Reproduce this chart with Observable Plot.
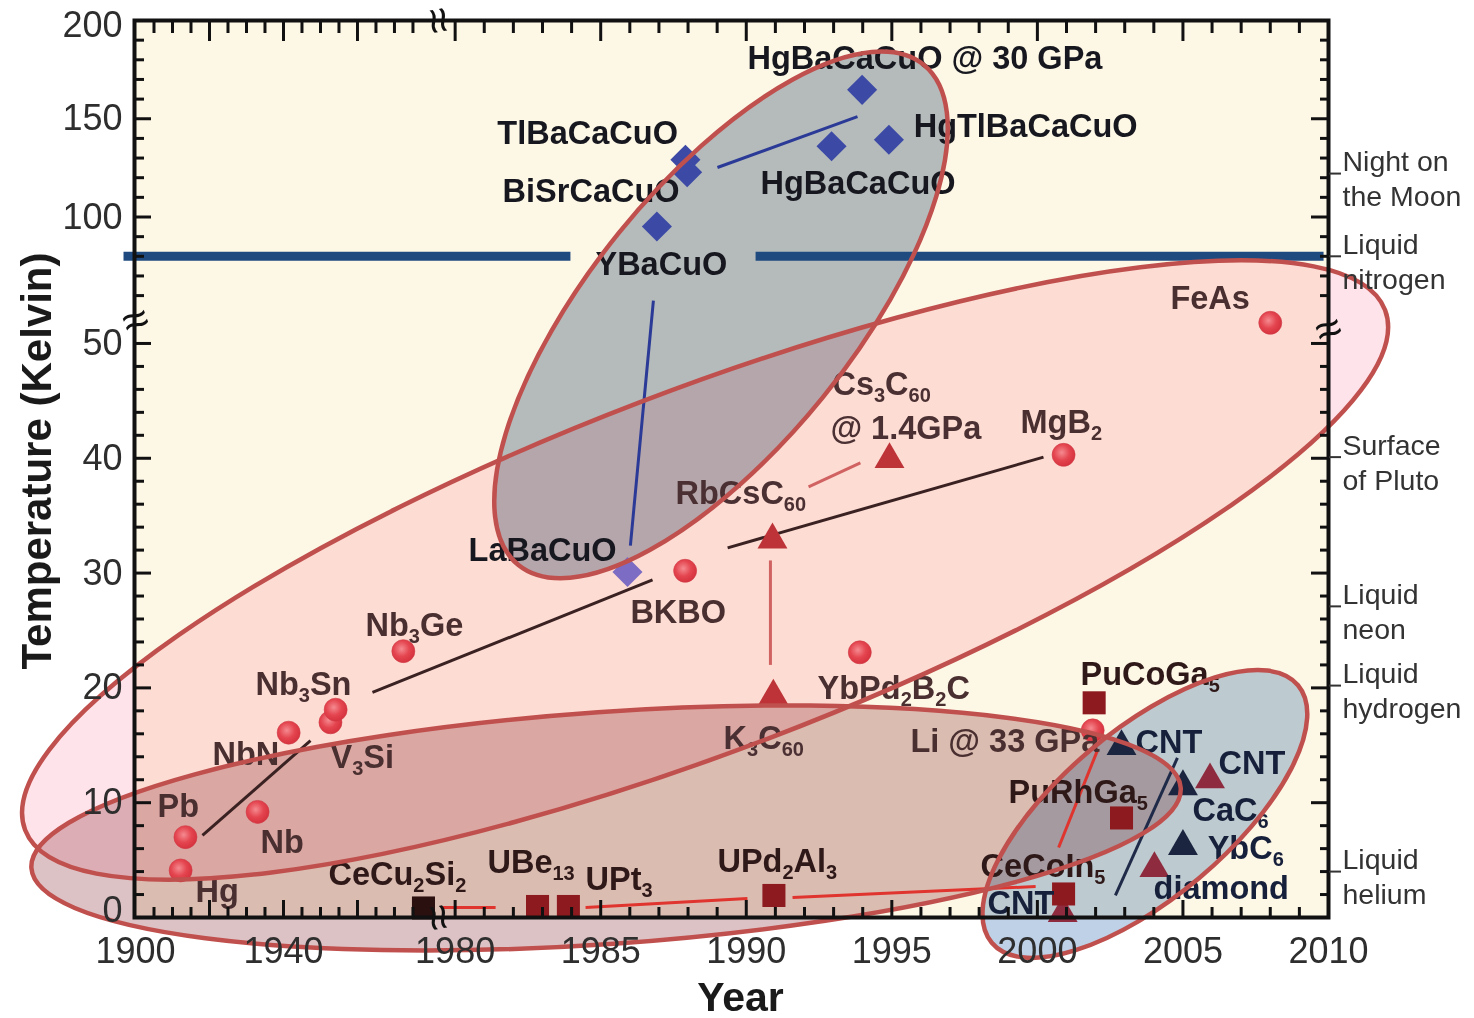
<!DOCTYPE html>
<html><head><meta charset="utf-8">
<script src="https://cdn.jsdelivr.net/npm/d3@7"></script>
<script src="https://cdn.jsdelivr.net/npm/@observablehq/plot@0.6"></script>
<style>html,body{margin:0;padding:0;background:#fff;} #chart svg{display:block}</style>
</head><body><div id="chart"></div>
<script>
// ---------------- DATA ----------------
// Axis breakpoints (broken axes): years 1900–1979 compressed, 1980–2010 expanded; Tc 0–52 K and 57–200 K
const xBreakDomain = [1900, 1979.2, 1979.6, 2010];
const yBreakDomain = [0, 52, 57, 200];

// Cuprates (blue diamonds)
const cuprateNames = ["LaBaCuO", "YBaCuO", "BiSrCaCuO", "TlBaCaCuO", "HgBaCaCuO", "HgTlBaCaCuO", "HgBaCaCuO @ 30 GPa"];
const cuprateYears = [1985.92, 1986.93, 1987.97, 1987.91, 1992.93, 1994.90, 1993.98];
const cuprateTc    = [30.1, 95.2, 122.8, 129.1, 136.0, 139.3, 164.7];

// Conventional / BCS-like (red circles)
const conventionalNames = ["Hg", "Pb", "Nb", "NbN", "V3Si", "Nb3Sn", "Nb3Ge", "BKBO", "YbPd2B2C", "MgB2", "FeAs", "Li @ 33 GPa"];
const conventionalYears = [1912.2, 1913.5, 1933.0, 1941.4, 1952.7, 1954.1, 1972.4, 1987.9, 1993.9, 2000.9, 2008.0, 2001.9];
const conventionalTc    = [4.1, 7.0, 9.2, 16.1, 17.0, 18.1, 23.2, 30.2, 23.1, 40.3, 51.8, 16.3];

// Fullerenes (red triangles)
const fullereneNames = ["K3C60", "RbCsC60", "Cs3C60 @ 1.4GPa"];
const fullereneYears = [1990.93, 1990.90, 1994.92];
const fullereneTc    = [19.3, 32.9, 39.9];

// Carbon-based (dark red triangles)
const carbonRedNames = ["diamond", "CNT", "CNT"];
const carbonRedYears = [2004.02, 2005.93, 2000.87];
const carbonRedTc    = [4.27, 12.0, 0.35];

// Carbon-based (navy triangles)
const carbonNavyNames = ["CNT", "CaC6", "YbC6"];
const carbonNavyYears = [2002.89, 2005.0, 2005.0];
const carbonNavyTc    = [14.9, 11.4, 6.2];

// Heavy fermions (squares)
const heavyNames = ["CeCu2Si2", "UBe13", "UPt3", "UPd2Al3", "CeCoIn5", "PuCoGa5", "PuRhGa5"];
const heavyYears = [1977.84, 1982.83, 1983.89, 1990.95, 2000.9, 2001.95, 2002.89];
const heavyTc    = [0.83, 0.96, 0.96, 1.92, 2.05, 18.7, 8.67];

// Trend lines
const trendFamily = ["cuprate", "cuprate", "conventional", "conventional", "conventional", "fullerene", "fullerene", "heavy", "heavy", "heavy", "heavy", "carbon"];
const trendYear1  = [1989.01, 1986.81, 1918.1, 1964.05, 1989.36, 1992.14, 1990.83, 1979.57, 1984.48, 1991.59, 2000.73, 2002.68];
const trendTc1    = [125.2, 57.5, 7.15, 19.6, 32.2, 37.5, 31.1, 0.87, 0.87, 1.74, 6.1, 1.92];
const trendYear2  = [1993.82, 1986.02, 1947.3, 1986.78, 2000.21, 1993.92, 1990.83, 1981.39, 1990.04, 1999.94, 2002.07, 2004.81];
const trendTc2    = [151.1, 32.4, 15.4, 29.4, 40.1, 39.6, 22.0, 0.87, 1.65, 2.7, 14.6, 13.9];

// Liquid nitrogen line (interrupted by the YBaCuO label)
const nitrogenTc = 80;
const nitrogenFrom = [1896.76, 1990.32];
const nitrogenTo   = [1983.96, 2009.83];

// Family groupings (ellipses): major-axis end points in (year, K)
const groupNames    = ["Cuprates", "Conventional", "Heavy fermions", "Carbon"];
const groupFromYear = [1982.19, 1870.3, 1872.0, 1998.45];
const groupFromTc   = [30.66, 7.58, 4.25, -2.24];
const groupToYear   = [1996.11, 2011.96, 2004.94, 2008.97];
const groupToTc     = [177.2, 54.63, 11.26, 20.19];

// Point labels
const labelText = ["HgBaCaCuO @ 30 GPa", "TlBaCaCuO", "BiSrCaCuO", "YBaCuO", "HgBaCaCuO", "HgTlBaCaCuO", "LaBaCuO",
  "BKBO", "Cs_3C_60", "@ 1.4GPa", "RbCsC_60", "MgB_2", "FeAs", "Nb_3Ge", "Nb_3Sn", "NbN", "V_3Si", "Pb", "Nb", "Hg",
  "CeCu_2Si_2", "UBe_13", "UPt_3", "UPd_2Al_3", "K_3C_60", "YbPd_2B_2C", "Li @ 33 GPa", "PuCoGa_5", "CNT", "CNT",
  "PuRhGa_5", "CaC_6", "YbC_6", "diamond", "CeCoIn_5", "CNT"];
const labelYear = [1990.04, 1981.45, 1981.63, 1984.82, 1990.49, 1995.75, 1980.46,
  1986.02, 1992.96, 1992.89, 1987.57, 1999.42, 2004.57, 1962.16, 1932.43, 1920.81, 1952.7, 1905.95, 1933.78, 1916.2,
  1952.16, 1981.11, 1984.48, 1989.01, 1989.22, 1992.45, 1995.64, 2001.48, 2003.37, 2006.22,
  1999.01, 2005.33, 2005.85, 2003.99, 1998.05, 1998.29];
const labelTc = [180.7, 142.2, 112.7, 75.8, 116.8, 146.1, 32.0,
  26.6, 46.4, 42.6, 36.9, 43.1, 58.5, 25.45, 20.3, 14.2, 13.95, 9.67, 6.54, 2.27,
  3.75, 4.79, 3.31, 4.88, 15.6, 19.96, 15.34, 21.18, 15.25, 13.42,
  10.9, 9.35, 6.0, 2.5, 4.45, 1.22];
const labelFamily = ["cuprate", "cuprate", "cuprate", "cuprate", "cuprate", "cuprate", "cuprate",
  "conventional", "fullerene", "fullerene", "fullerene", "conventional", "conventional", "conventional", "conventional",
  "conventional", "conventional", "conventional", "conventional", "conventional",
  "heavy", "heavy", "heavy", "heavy", "fullerene", "conventional", "conventional", "heavy", "carbon", "carbon",
  "heavy", "carbon", "carbon", "carbon", "heavy", "carbon"];

// Reference temperatures (right side)
const referenceNames = ["Night on\nthe Moon", "Liquid\nnitrogen", "Surface\nof Pluto", "Liquid\nneon", "Liquid\nhydrogen", "Liquid\nhelium"];
const referenceTc = [122.1, 80, 40.1, 27.1, 20.2, 4.0];

// Tick labels
const xTickLabels = [1900, 1940, 1980, 1985, 1990, 1995, 2000, 2005, 2010];
const yTickLabels = [10, 20, 30, 40, 50, 100, 150];
const yTickLabelBottom = [0];
const yTickLabelTop = [200];

// ---------------- STYLE ----------------
const NS = "http://www.w3.org/2000/svg";
const FONT = "'Liberation Sans', Arial, Helvetica, sans-serif";
const familyLabelColor = {cuprate: "#17181f", conventional: "#4a2f30", fullerene: "#4a3032", heavy: "#2e1818", carbon: "#16203a"};
const familyLineColor = {cuprate: "#2b3a97", conventional: "#3b2222", fullerene: "#d06262", heavy: "#e0342e", carbon: "#1e2a48"};
const ellipseFill = ["#b7c1d0", "#ffe3ea", "#ddc2c5", "#bfd1e7"];
const ellipseHalfWidth = [131, 180, 116, 84];
const TICK_FONT = 36, LABEL_FONT = 32.5, SUB_FONT = 20, SUB_DY = 7;

const xMajorTicks = [1920, 1940, 1960, 1980, 1985, 1990, 1995, 2000, 2005];
const xMinorTicks = d3.range(1905, 1980, 5).filter(d => d % 20 !== 0).concat(d3.range(1981, 2010).filter(d => d % 5 !== 0));
const yMajorTicks = [10, 20, 30, 40, 50, 100, 150];
const yMinorTicks = d3.range(2, 50, 2).filter(d => d % 10 !== 0).concat([60, 70, 80, 90, 110, 120, 130, 140, 160, 170, 180, 190]);

const idx = a => d3.range(a.length);

function defsMark() {
  const g = document.createElementNS(NS, "g");
  const defs = document.createElementNS(NS, "defs");
  const grad = document.createElementNS(NS, "radialGradient");
  grad.setAttribute("id", "dotGrad");
  grad.setAttribute("cx", "0.42"); grad.setAttribute("cy", "0.4"); grad.setAttribute("r", "0.62");
  [["0", "#f58a90"], ["0.55", "#e4454f"], ["1", "#d5323e"]].forEach(([o, c]) => {
    const s = document.createElementNS(NS, "stop");
    s.setAttribute("offset", o); s.setAttribute("stop-color", c);
    grad.appendChild(s);
  });
  defs.appendChild(grad);
  g.appendChild(defs);
  return g;
}

function ellipseMark(layer) {
  return (index, scales) => {
    const g = document.createElementNS(NS, "g");
    groupNames.forEach((name, i) => {
      const x1 = scales.x(groupFromYear[i]), y1 = scales.y(groupFromTc[i]);
      const x2 = scales.x(groupToYear[i]), y2 = scales.y(groupToTc[i]);
      const cx = (x1 + x2) / 2, cy = (y1 + y2) / 2;
      const rx = Math.hypot(x2 - x1, y2 - y1) / 2;
      const ang = Math.atan2(y2 - y1, x2 - x1) * 180 / Math.PI;
      const e = document.createElementNS(NS, "ellipse");
      e.setAttribute("cx", cx); e.setAttribute("cy", cy);
      e.setAttribute("rx", rx); e.setAttribute("ry", ellipseHalfWidth[i]);
      e.setAttribute("transform", `rotate(${ang} ${cx} ${cy})`);
      if (layer === "fill") {
        e.setAttribute("fill", ellipseFill[i]);
        e.setAttribute("stroke", "none");
        e.style.mixBlendMode = "multiply";
      } else {
        e.setAttribute("fill", "none");
        e.setAttribute("stroke", "#c0504d");
        e.setAttribute("stroke-width", 4.5);
      }
      const t = document.createElementNS(NS, "title"); t.textContent = name; e.appendChild(t);
      g.appendChild(e);
    });
    return g;
  };
}

const tickOpts = {strokeWidth: 3, stroke: "#111", fill: "none", tickFormat: () => "", label: null};
const tickLabelOpts = {tickSize: 0, fontSize: TICK_FONT, fill: "#2e2e2e", tickFormat: d => String(d), label: null};

const chart = Plot.plot({
  width: 1474, height: 1018,
  marginLeft: 134, marginRight: 146, marginTop: 20, marginBottom: 101,
  x: {type: "linear", domain: xBreakDomain, range: [135, 428, 443, 1328], axis: null},
  y: {type: "linear", domain: yBreakDomain, range: [917, 320, 301, 20], axis: null},
  color: {type: "identity"},
  style: {background: "white", fontFamily: FONT, overflow: "visible"},
  marks: [
    defsMark,
    Plot.frame({fill: "#fdf7e6", stroke: "none"}),
    ellipseMark("fill"),
    // liquid nitrogen line
    Plot.link(idx(nitrogenFrom), {x1: i => nitrogenFrom[i], x2: i => nitrogenTo[i], y1: () => nitrogenTc, y2: () => nitrogenTc, stroke: "#1f4a7f", strokeWidth: 9}),
    // trend lines
    Plot.link(idx(trendFamily), {x1: i => trendYear1[i], y1: i => trendTc1[i], x2: i => trendYear2[i], y2: i => trendTc2[i],
      stroke: i => familyLineColor[trendFamily[i]], strokeWidth: 3}),
    // markers
    Plot.dot(idx(conventionalNames), {x: i => conventionalYears[i], y: i => conventionalTc[i], r: 11.5, fill: "url(#dotGrad)", stroke: "#cf3a44", strokeWidth: 0.6, title: i => conventionalNames[i]}),
    Plot.dot(idx(fullereneNames), {x: i => fullereneYears[i], y: i => fullereneTc[i], symbol: "triangle", r: 11.1, fill: "#bd3337", stroke: "none", title: i => fullereneNames[i]}),
    Plot.dot(idx(carbonRedNames), {x: i => carbonRedYears[i], y: i => carbonRedTc[i], symbol: "triangle", r: 11.1, fill: "#8e2b3e", stroke: "none", title: i => carbonRedNames[i]}),
    Plot.dot(idx(carbonNavyNames), {x: i => carbonNavyYears[i], y: i => carbonNavyTc[i], symbol: "triangle", r: 11.1, fill: "#1b2540", stroke: "none", title: i => carbonNavyNames[i]}),
    Plot.dot(idx(heavyNames), {x: i => heavyYears[i], y: i => heavyTc[i], symbol: "square", r: 13, fill: i => i === 0 ? "#2b1010" : "#8d1a1e", stroke: "none", title: i => heavyNames[i]}),
    Plot.dot(idx(cuprateNames), {x: i => cuprateYears[i], y: i => cuprateTc[i], symbol: "square", rotate: 45, r: 12, fill: i => i === 0 ? "#7d6cc4" : "#3c4aa6", stroke: "none", title: i => cuprateNames[i]}),
    // labels
    Plot.text(idx(labelText), {x: i => labelYear[i], y: i => labelTc[i], text: i => labelText[i], textAnchor: "start", lineAnchor: "middle",
      fontSize: LABEL_FONT, fontWeight: "bold", fill: i => familyLabelColor[labelFamily[i]]}),
    ellipseMark("stroke"),
    Plot.frame({stroke: "#111", strokeWidth: 4, fill: "none"}),
    // inward ticks: left / right
    Plot.axisY(yMajorTicks, {anchor: "left", tickSize: 17, dx: 17, ...tickOpts}),
    Plot.axisY(yMinorTicks, {anchor: "left", tickSize: 10, dx: 10, ...tickOpts}),
    Plot.axisY(yMajorTicks, {anchor: "right", tickSize: 18, dx: -18, ...tickOpts}),
    Plot.axisY(yMinorTicks, {anchor: "right", tickSize: 9, dx: -9, ...tickOpts}),
    // inward ticks: top / bottom
    Plot.axisX(xMajorTicks, {anchor: "top", tickSize: 20, dy: 20, ...tickOpts}),
    Plot.axisX(xMinorTicks, {anchor: "top", tickSize: 12, dy: 12, ...tickOpts}),
    Plot.axisX(xMajorTicks, {anchor: "bottom", tickSize: 17, dy: -17, ...tickOpts}),
    Plot.axisX(xMinorTicks, {anchor: "bottom", tickSize: 10, dy: -10, ...tickOpts}),
    // tick labels
    Plot.axisY(yTickLabels, {anchor: "left", tickPadding: 12, ...tickLabelOpts}),
    Plot.axisY(yTickLabelBottom, {anchor: "left", tickPadding: 12, dy: -7, ...tickLabelOpts}),
    Plot.axisY(yTickLabelTop, {anchor: "left", tickPadding: 12, dy: 5, ...tickLabelOpts}),
    Plot.axisX(xTickLabels, {anchor: "bottom", tickPadding: 20, ...tickLabelOpts}),
    // reference temperatures on the right
    Plot.axisY(referenceTc, {anchor: "right", tickSize: 12, strokeWidth: 2, stroke: "#333", fill: "none", tickFormat: () => "", label: null}),
    Plot.text(idx(referenceNames), {y: i => referenceTc[i], text: i => referenceNames[i], frameAnchor: "right", dx: 14, dy: 4,
      textAnchor: "start", lineAnchor: "middle", lineHeight: 1.22, fontSize: 28.5, fill: "#333"}),
    // axis break marks
    Plot.text([0], {x: () => 1900, y: () => 52, text: () => "≈", fontSize: 46, fill: "#111", rotate: -20}),
    Plot.text([0], {x: () => 2010, y: () => 51.2, text: () => "≈", fontSize: 46, fill: "#111", rotate: -20}),
    Plot.text([0], {x: () => 1979.45, y: () => 0, text: () => "≈", fontSize: 46, fill: "#111", rotate: 80}),
    Plot.text([0], {x: () => 1979.45, y: () => 200, text: () => "≈", fontSize: 46, fill: "#111", rotate: 80}),
    // axis titles
    Plot.text(["Temperature (Kelvin)"], {frameAnchor: "left", textAnchor: "middle", lineAnchor: "middle", rotate: -90, dx: -97, dy: -8,
      fontSize: 42, fontWeight: "bold", fill: "#1a1a1a"}),
    Plot.text(["Year"], {frameAnchor: "bottom", textAnchor: "middle", lineAnchor: "middle", dx: 9, dy: 80, fontSize: 41, fontWeight: "bold", fill: "#1a1a1a"})
  ]
});

// subscripts: "Nb_3Ge" -> Nb<sub>3</sub>Ge
chart.querySelectorAll("text").forEach(t => {
  const s = t.textContent;
  if (!s.includes("_") || t.children.length) return;
  const parts = s.split(/_(\d+)/);
  t.textContent = "";
  let shifted = false;
  parts.forEach((p, i) => {
    if (!p) return;
    const ts = document.createElementNS(NS, "tspan");
    if (i % 2 === 1) { ts.setAttribute("font-size", SUB_FONT); ts.setAttribute("dy", SUB_DY); shifted = true; }
    else if (shifted) { ts.setAttribute("dy", -SUB_DY); shifted = false; }
    ts.textContent = p;
    t.appendChild(ts);
  });
});

document.getElementById("chart").appendChild(chart);
</script></body></html>
